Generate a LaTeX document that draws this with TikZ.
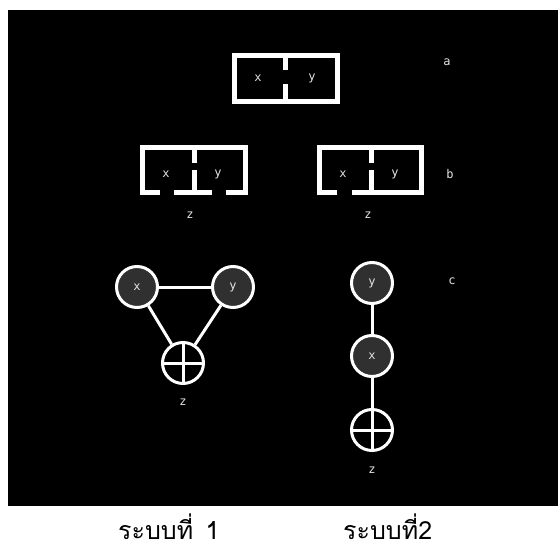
\documentclass[tikz,border=0pt]{standalone}
\usepackage{fontspec}
\newfontfamily\thaifont[Script=Thai]{Loma}
\newfontfamily\labelfont{DejaVu Sans Mono}
\definecolor{disc}{RGB}{48,48,48}
\definecolor{ink}{RGB}{228,228,228}
\begin{document}
\begin{tikzpicture}[x=1pt,y=-1pt,
  wall/.style={draw=white,line width=5pt,line join=miter},
  lbl/.style={text=ink,font=\labelfont\fontsize{12}{12}\selectfont,inner sep=0pt},
  ring/.style={circle,draw=white,line width=3pt,minimum size=41pt,inner sep=0pt},
  solid disc/.style={ring,fill=disc,text=ink,font=\labelfont\fontsize{12}{12}\selectfont},
  sum disc/.style={ring,fill=black},
  edge/.style={draw=white,line width=3pt},
  caption/.style={text=black,font=\thaifont\fontsize{25}{25}\selectfont,inner sep=0pt,anchor=south west}]
\useasboundingbox (0,0) rectangle (558,546);
\fill[white] (0,0) rectangle (558,546);
\fill[black] (8,10) rectangle (558,506);

% row a: closed box with a divider that has a small opening
\draw[wall] (234.5,55.5) rectangle (337.5,101.5);
\draw[wall] (285.5,55.5) -- (285.5,70);
\draw[wall] (285.5,84) -- (285.5,101.5);
\node[lbl] (ax) at (258,78) {x};
\node[lbl] (ay) at (312,78) {y};
\node[lbl] (la) at (447,62) {a};

% row b, left: two openings in the floor
\draw[wall] (160,192.5) -- (142.5,192.5) -- (142.5,147.5) -- (245.5,147.5) -- (245.5,192.5) -- (226,192.5);
\draw[wall] (174,192.5) -- (212,192.5);
\draw[wall] (194.5,147.5) -- (194.5,163);
\draw[wall] (194.5,170) -- (194.5,192.5);
\node[lbl] (bx1) at (166,174) {x};
\node[lbl] (by1) at (218,174) {y};
\node[lbl] (bz1) at (190,215) {z};

% row b, right: one opening in the floor
\draw[wall] (337,192.5) -- (319.5,192.5) -- (319.5,147.5) -- (421.5,147.5) -- (421.5,192.5) -- (352,192.5);
\draw[wall] (371,147.5) -- (371,163);
\draw[wall] (371,170) -- (371,192.5);
\node[lbl] (bx2) at (343,174) {x};
\node[lbl] (by2) at (395,174) {y};
\node[lbl] (bz2) at (368,215) {z};
\node[lbl] (lb) at (450,174) {b};

% row c, left: triangle
\node[solid disc] (cx1) at (137,287) {x};
\node[solid disc] (cy1) at (233,287) {y};
\node[sum disc] (cz1) at (183,363) {};
\draw[edge] (cz1.north) -- (cz1.south) (cz1.west) -- (cz1.east);
\draw[edge] (cx1) -- (cy1);
\draw[edge] (cx1) -- (cz1);
\draw[edge] (cy1) -- (cz1);
\node[lbl] (cz1l) at (183,402) {z};

% row c, right: chain
\node[solid disc] (cy2) at (372,283) {y};
\node[solid disc] (cx2) at (372,356) {x};
\node[sum disc] (cz2) at (372,430) {};
\draw[edge] (cz2.north) -- (cz2.south) (cz2.west) -- (cz2.east);
\draw[edge] (cy2) -- (cx2);
\draw[edge] (cx2) -- (cz2);
\node[lbl] (cz2l) at (372,470) {z};
\node[lbl] (lc) at (452,281) {c};

% captions
\node[caption] (cap1) at (118,540) {ระบบที่\hspace{4pt} 1};
\node[caption] (cap2) at (343,540) {ระบบที่2};
\end{tikzpicture}
\end{document}
